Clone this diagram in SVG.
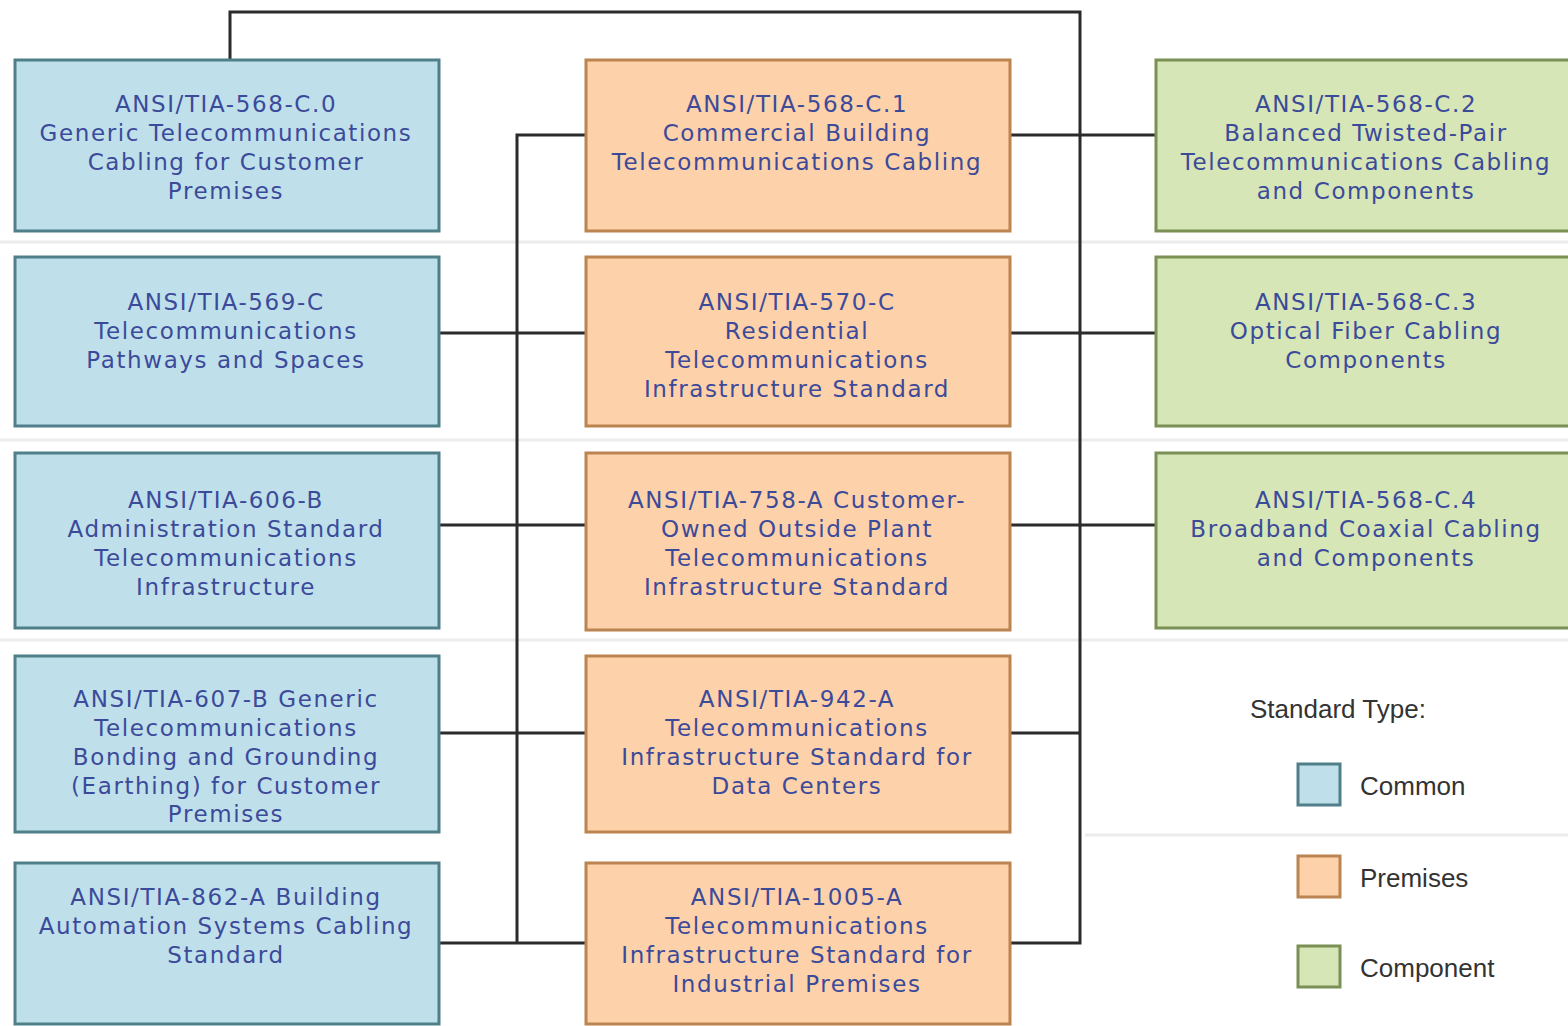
<svg xmlns="http://www.w3.org/2000/svg" width="1568" height="1026" viewBox="0 0 1568 1026">
<style>
.bx{stroke-width:3}
.c{fill:#bfe0ea;stroke:#4f7f89}
.p{fill:#fdd1a9;stroke:#bb8450}
.g{fill:#d6e6b6;stroke:#7b9055}
.t{font-family:"DejaVu Sans",Verdana,sans-serif;font-size:23px;letter-spacing:1.6px;fill:#3c4a9a;text-anchor:middle}
.ln{fill:none;stroke:#2b2b2b;stroke-width:3}
.sep{stroke:#ececec;stroke-width:3}
.lg{font-family:"Liberation Sans",Arial,sans-serif;fill:#333;font-size:26px}
</style>
<rect width="1568" height="1026" fill="#fff"/>
<g id="separators">
<line class="sep" x1="0" y1="242" x2="1568" y2="242"/>
<line class="sep" x1="0" y1="440" x2="1568" y2="440"/>
<line class="sep" x1="0" y1="640" x2="1568" y2="640"/>
<line class="sep" x1="1085" y1="835" x2="1568" y2="835"/>
</g>
<g id="connectors">
<polyline class="ln" points="230,60 230,12 1080,12 1080,943 1010,943"/>
<polyline class="ln" points="585,135 517,135 517,943"/>
<line class="ln" x1="439" y1="333" x2="585" y2="333"/>
<line class="ln" x1="439" y1="525" x2="585" y2="525"/>
<line class="ln" x1="439" y1="733" x2="585" y2="733"/>
<line class="ln" x1="439" y1="943" x2="585" y2="943"/>
<line class="ln" x1="1010" y1="135" x2="1155" y2="135"/>
<line class="ln" x1="1010" y1="333" x2="1155" y2="333"/>
<line class="ln" x1="1010" y1="525" x2="1155" y2="525"/>
<line class="ln" x1="1010" y1="733" x2="1080" y2="733"/>
</g>
<g id="n-568-c0">
<rect class="bx c" x="15" y="60" width="424" height="171"/>
<text class="t"><tspan x="226" y="112">ANSI/TIA-568-C.0</tspan><tspan x="226" y="141">Generic Telecommunications</tspan><tspan x="226" y="170">Cabling for Customer</tspan><tspan x="226" y="199">Premises</tspan></text>
</g>
<g id="n-569-c">
<rect class="bx c" x="15" y="257" width="424" height="169"/>
<text class="t"><tspan x="226" y="310">ANSI/TIA-569-C</tspan><tspan x="226" y="339">Telecommunications</tspan><tspan x="226" y="368">Pathways and Spaces</tspan></text>
</g>
<g id="n-606-b">
<rect class="bx c" x="15" y="453" width="424" height="175"/>
<text class="t"><tspan x="226" y="508">ANSI/TIA-606-B</tspan><tspan x="226" y="537">Administration Standard</tspan><tspan x="226" y="566">Telecommunications</tspan><tspan x="226" y="595">Infrastructure</tspan></text>
</g>
<g id="n-607-b">
<rect class="bx c" x="15" y="656" width="424" height="176"/>
<text class="t"><tspan x="226" y="707">ANSI/TIA-607-B Generic</tspan><tspan x="226" y="736">Telecommunications</tspan><tspan x="226" y="765">Bonding and Grounding</tspan><tspan x="226" y="794">(Earthing) for Customer</tspan><tspan x="226" y="822">Premises</tspan></text>
</g>
<g id="n-862-a">
<rect class="bx c" x="15" y="863" width="424" height="161"/>
<text class="t"><tspan x="226" y="905">ANSI/TIA-862-A Building</tspan><tspan x="226" y="934">Automation Systems Cabling</tspan><tspan x="226" y="963">Standard</tspan></text>
</g>
<g id="n-568-c1">
<rect class="bx p" x="586" y="60" width="424" height="171"/>
<text class="t"><tspan x="797" y="112">ANSI/TIA-568-C.1</tspan><tspan x="797" y="141">Commercial Building</tspan><tspan x="797" y="170">Telecommunications Cabling</tspan></text>
</g>
<g id="n-570-c">
<rect class="bx p" x="586" y="257" width="424" height="169"/>
<text class="t"><tspan x="797" y="310">ANSI/TIA-570-C</tspan><tspan x="797" y="339">Residential</tspan><tspan x="797" y="368">Telecommunications</tspan><tspan x="797" y="397">Infrastructure Standard</tspan></text>
</g>
<g id="n-758-a">
<rect class="bx p" x="586" y="453" width="424" height="177"/>
<text class="t"><tspan x="797" y="508">ANSI/TIA-758-A Customer-</tspan><tspan x="797" y="537">Owned Outside Plant</tspan><tspan x="797" y="566">Telecommunications</tspan><tspan x="797" y="595">Infrastructure Standard</tspan></text>
</g>
<g id="n-942-a">
<rect class="bx p" x="586" y="656" width="424" height="176"/>
<text class="t"><tspan x="797" y="707">ANSI/TIA-942-A</tspan><tspan x="797" y="736">Telecommunications</tspan><tspan x="797" y="765">Infrastructure Standard for</tspan><tspan x="797" y="794">Data Centers</tspan></text>
</g>
<g id="n-1005-a">
<rect class="bx p" x="586" y="863" width="424" height="161"/>
<text class="t"><tspan x="797" y="905">ANSI/TIA-1005-A</tspan><tspan x="797" y="934">Telecommunications</tspan><tspan x="797" y="963">Infrastructure Standard for</tspan><tspan x="797" y="992">Industrial Premises</tspan></text>
</g>
<g id="n-568-c2">
<rect class="bx g" x="1156" y="60" width="430" height="171"/>
<text class="t"><tspan x="1366" y="112">ANSI/TIA-568-C.2</tspan><tspan x="1366" y="141">Balanced Twisted-Pair</tspan><tspan x="1366" y="170">Telecommunications Cabling</tspan><tspan x="1366" y="199">and Components</tspan></text>
</g>
<g id="n-568-c3">
<rect class="bx g" x="1156" y="257" width="430" height="169"/>
<text class="t"><tspan x="1366" y="310">ANSI/TIA-568-C.3</tspan><tspan x="1366" y="339">Optical Fiber Cabling</tspan><tspan x="1366" y="368">Components</tspan></text>
</g>
<g id="n-568-c4">
<rect class="bx g" x="1156" y="453" width="430" height="175"/>
<text class="t"><tspan x="1366" y="508">ANSI/TIA-568-C.4</tspan><tspan x="1366" y="537">Broadband Coaxial Cabling</tspan><tspan x="1366" y="566">and Components</tspan></text>
</g>
<g id="legend">
<text class="lg" x="1250" y="718">Standard Type:</text>
<rect class="bx c" x="1298" y="764" width="42" height="41"/>
<text class="lg" x="1360" y="795">Common</text>
<rect class="bx p" x="1298" y="856" width="42" height="41"/>
<text class="lg" x="1360" y="887">Premises</text>
<rect class="bx g" x="1298" y="946" width="42" height="41"/>
<text class="lg" x="1360" y="977">Component</text>
</g>
</svg>
